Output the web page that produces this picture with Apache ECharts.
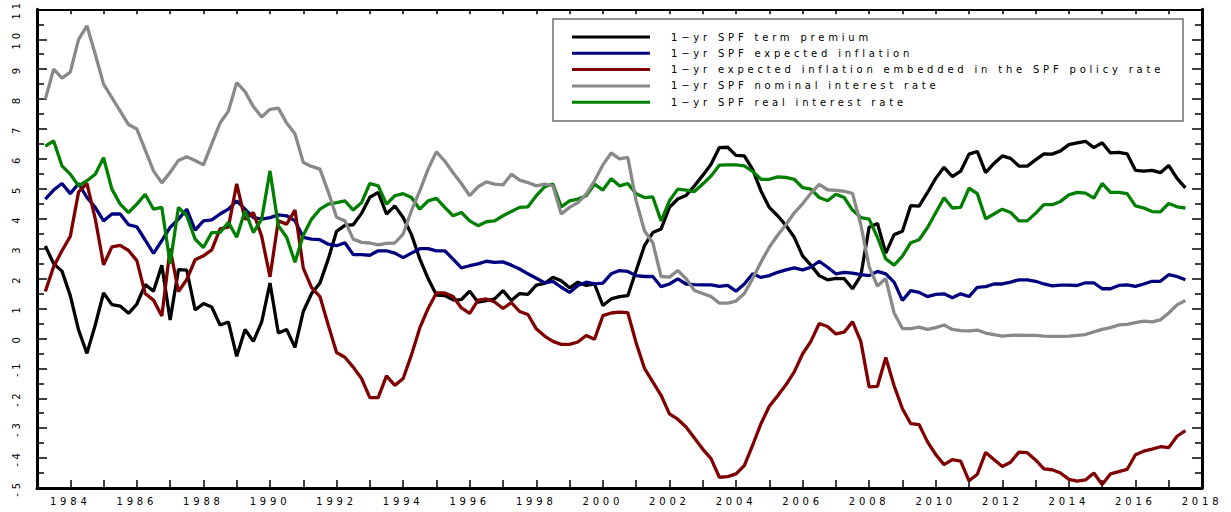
<!DOCTYPE html>
<html>
<head>
<meta charset="utf-8">
<script src="https://cdn.jsdelivr.net/npm/echarts@6/dist/echarts.min.js"></script>
<style>
  html, body { margin: 0; padding: 0; background: #fff; }
  #chart { width: 1231px; height: 512px; }
  /* wide spaced lettering like the original plot font */
  #chart svg text { letter-spacing: 3.8px; }
</style>
</head>
<body>
<div id="chart"></div>
<script>
// quarterly observations, first one at 1983.25
var firstQuarter = 1983.25;

var termPremium = [
  3.09, 2.5, 2.25, 1.43, 0.28, -0.5, 0.45, 1.52, 1.13, 1.08, 0.84, 1.15, 1.8, 1.58, 2.45, 0.62,
  2.3, 2.28, 0.95, 1.17, 1.05, 0.45, 0.55, -0.6, 0.3, -0.1, 0.55, 1.85, 0.18, 0.3, -0.3, 0.9,
  1.5, 1.85, 2.65, 3.58, 3.78, 3.8, 4.18, 4.72, 4.88, 4.16, 4.43, 4.04, 3.47, 2.66, 2.0, 1.45,
  1.43, 1.29, 1.3, 1.58, 1.21, 1.26, 1.32, 1.6, 1.27, 1.5, 1.47, 1.78, 1.84, 2.04, 1.93, 1.69,
  1.88, 1.77, 1.82, 1.1, 1.32, 1.4, 1.43, 2.27, 3.1, 3.54, 3.66, 4.38, 4.66, 4.78, 5.1, 5.45,
  5.82, 6.38, 6.39, 6.12, 6.1, 5.65, 4.93, 4.38, 4.1, 3.78, 3.38, 2.76, 2.45, 2.1, 1.96, 2.01,
  2.0, 1.66, 2.1, 3.72, 3.84, 2.85, 3.47, 3.58, 4.44, 4.42, 4.87, 5.35, 5.72, 5.41, 5.59, 6.16,
  6.25, 5.54, 5.85, 6.1, 6.02, 5.76, 5.76, 5.97, 6.17, 6.16, 6.27, 6.48, 6.54, 6.59, 6.38, 6.54,
  6.2, 6.22, 6.17, 5.62, 5.59, 5.62, 5.54, 5.78, 5.35, 5.03
];

var expInflation = [
  4.66, 4.96, 5.18, 4.84, 5.18, 4.71, 4.38, 3.93, 4.16, 4.16, 3.8, 3.73, 3.29, 2.84, 3.27, 3.71,
  3.99, 4.32, 3.62, 3.93, 3.96, 4.16, 4.32, 4.6, 4.32, 4.04, 3.99, 4.04, 4.13, 4.1, 3.93, 3.38,
  3.32, 3.3, 3.15, 3.1, 3.2, 2.8, 2.8, 2.78, 2.93, 2.93, 2.85, 2.7, 2.85, 3.0, 3.0, 2.93,
  2.93, 2.65, 2.36, 2.43, 2.49, 2.58, 2.54, 2.56, 2.45, 2.32, 2.16, 2.01, 1.86, 1.91, 1.71, 1.54,
  1.77, 1.88, 1.82, 1.85, 2.16, 2.27, 2.24, 2.1, 2.07, 2.07, 1.73, 1.82, 1.99, 1.82, 1.8, 1.79,
  1.79, 1.74, 1.77, 1.58, 1.82, 2.16, 2.04, 2.1, 2.21, 2.29, 2.36, 2.29, 2.38, 2.58, 2.38, 2.16,
  2.21, 2.18, 2.13, 2.1, 2.24, 2.16, 1.88, 1.27, 1.6, 1.54, 1.4, 1.47, 1.49, 1.36, 1.49, 1.4,
  1.71, 1.73, 1.82, 1.82, 1.88, 1.96, 1.96, 1.91, 1.82, 1.76, 1.78, 1.78, 1.77, 1.86, 1.86, 1.66,
  1.66, 1.77, 1.79, 1.74, 1.82, 1.91, 1.91, 2.13, 2.07, 1.96
];

var policyInflation = [
  1.57, 2.4, 2.93, 3.41, 4.9, 5.18, 4.0, 2.46, 3.06, 3.11, 2.94, 2.6, 1.5, 1.28, 0.75, 3.0,
  1.57, 1.97, 2.63, 2.76, 2.96, 3.66, 3.72, 5.17, 3.98, 4.21, 3.41, 2.06, 3.93, 3.82, 4.29, 2.35,
  1.7, 1.4, 0.45, -0.47, -0.63, -0.96, -1.34, -1.98, -1.98, -1.25, -1.57, -1.34, -0.55, 0.35, 1.0, 1.52,
  1.52, 1.4, 1.02, 0.84, 1.28, 1.32, 1.22, 1.0, 1.2, 0.9, 0.8, 0.32, 0.08, -0.1, -0.2, -0.2,
  -0.12, 0.1, -0.03, 0.76, 0.85, 0.88, 0.86, -0.15, -1.0, -1.45, -1.9, -2.52, -2.7, -2.96, -3.33, -3.7,
  -4.02, -4.64, -4.62, -4.53, -4.25, -3.57, -2.85, -2.27, -1.92, -1.55, -1.12, -0.52, -0.1, 0.5, 0.4, 0.15,
  0.21, 0.56, -0.1, -1.62, -1.6, -0.64, -1.58, -2.35, -2.85, -2.88, -3.45, -3.88, -4.22, -4.05, -4.1, -4.76,
  -4.54, -3.81, -4.05, -4.28, -4.14, -3.8, -3.82, -4.06, -4.36, -4.39, -4.5, -4.71, -4.77, -4.73, -4.5, -4.88,
  -4.53, -4.45, -4.38, -3.89, -3.77, -3.7, -3.62, -3.65, -3.27, -3.08
];

var nominalRate = [
  8.0, 9.0, 8.7, 8.9, 10.0, 10.45, 9.5, 8.5, 8.05, 7.6, 7.15, 7.0, 6.3, 5.6, 5.2, 5.55,
  5.95, 6.07, 5.95, 5.8, 6.5, 7.2, 7.6, 8.55, 8.25, 7.75, 7.4, 7.66, 7.7, 7.2, 6.84, 5.88,
  5.75, 5.66, 4.9, 4.05, 3.93, 3.32, 3.21, 3.19, 3.13, 3.18, 3.19, 3.49, 4.27, 4.93, 5.66, 6.24,
  5.93, 5.54, 5.18, 4.77, 5.07, 5.23, 5.16, 5.13, 5.49, 5.29, 5.21, 5.1, 5.16, 5.1, 4.16, 4.38,
  4.54, 4.82, 5.27, 5.8, 6.2, 6.0, 6.05, 4.6, 3.6, 3.2, 2.07, 2.05, 2.27, 2.0, 1.6, 1.5,
  1.4, 1.18, 1.18, 1.25, 1.5, 2.0, 2.55, 3.05, 3.45, 3.8, 4.2, 4.5, 4.85, 5.15, 4.97, 4.95,
  4.92, 4.85, 3.8, 2.4, 1.75, 2.0, 0.85, 0.33, 0.33, 0.38, 0.3, 0.36, 0.45, 0.3, 0.26, 0.25,
  0.28, 0.18, 0.13, 0.08, 0.1, 0.11, 0.1, 0.1, 0.08, 0.07, 0.07, 0.08, 0.1, 0.13, 0.22, 0.3,
  0.36, 0.45, 0.47, 0.53, 0.58, 0.55, 0.62, 0.85, 1.12, 1.27
];

var realRate = [
  6.43, 6.6, 5.77, 5.49, 5.1, 5.27, 5.49, 6.04, 4.99, 4.49, 4.21, 4.49, 4.82, 4.32, 4.38, 2.5,
  4.38, 4.1, 3.32, 3.04, 3.54, 3.54, 3.88, 3.38, 4.27, 3.54, 3.99, 5.6, 3.77, 3.38, 2.55, 3.45,
  3.99, 4.32, 4.49, 4.54, 4.6, 4.29, 4.54, 5.18, 5.1, 4.49, 4.77, 4.84, 4.71, 4.32, 4.6, 4.68,
  4.38, 4.1, 4.21, 3.93, 3.77, 3.9, 3.93, 4.1, 4.24, 4.38, 4.4, 4.77, 5.07, 5.16, 4.4, 4.6,
  4.66, 4.77, 5.16, 4.96, 5.34, 5.1, 5.18, 4.84, 4.71, 4.73, 3.93, 4.6, 4.99, 4.96, 4.91, 5.16,
  5.43, 5.79, 5.8, 5.8, 5.77, 5.58, 5.32, 5.32, 5.4, 5.38, 5.32, 5.04, 4.99, 4.71, 4.6, 4.82,
  4.71, 4.29, 4.04, 3.99, 3.38, 2.66, 2.45, 2.75, 3.2, 3.3, 3.7, 4.2, 4.7, 4.36, 4.38, 5.02,
  4.84, 4.0, 4.16, 4.32, 4.21, 3.93, 3.93, 4.18, 4.47, 4.47, 4.58, 4.8, 4.88, 4.86, 4.69, 5.18,
  4.88, 4.88, 4.84, 4.43, 4.36, 4.24, 4.23, 4.51, 4.4, 4.36
];

var seriesNames = [
  '1−yr SPF term premium',
  '1−yr SPF expected inflation',
  '1−yr expected inflation embedded in the SPF policy rate',
  '1−yr SPF nominal interest rate',
  '1−yr SPF real interest rate'
];
var seriesColors = ['#000000', '#00007f', '#7f0000', '#898989', '#007f00'];
var seriesData = [termPremium, expInflation, policyInflation, nominalRate, realRate];

function withDates(values) {
  return values.map(function (v, i) { return [firstQuarter + i * 0.25, v]; });
}

var fontFam = '"DejaVu Sans", sans-serif';
var chart = echarts.init(document.getElementById('chart'), null, { renderer: 'svg' });

var series = seriesNames.map(function (name, k) {
  return {
    name: name,
    type: 'line',
    data: withDates(seriesData[k]),
    symbol: 'none',
    animation: false,
    lineStyle: { color: seriesColors[k], width: 3.3 },
    itemStyle: { color: seriesColors[k] },
    z: 2
  };
});
// the green line sits on top in the original
series.push(series.splice(3, 1)[0]);

var xCommon = {
  type: 'value', min: 1983, max: 2018, interval: 1,
  splitLine: { show: false },
  axisLine: { onZero: false, lineStyle: { color: '#000', width: 3 } }
};
var yCommon = {
  type: 'value', min: -5, max: 11, interval: 1,
  splitLine: { show: false },
  axisLine: { onZero: false, lineStyle: { color: '#000', width: 3 } },
  axisTick: { inside: true, length: 10, lineStyle: { color: '#000', width: 1.5 } },
  minorTick: { show: true, splitNumber: 2, length: 7, lineStyle: { color: '#000', width: 1.5 } }
};

chart.setOption({
  backgroundColor: '#fff',
  animation: false,
  grid: { left: 37, right: 29, top: 8, bottom: 24 },
  xAxis: [
    Object.assign({}, xCommon, {
      position: 'bottom',
      axisTick: { inside: true, length: 8, lineStyle: { color: '#000', width: 1.5 } },
      axisLabel: {
        color: '#000', fontSize: 10, fontFamily: fontFam, margin: 8,
        formatter: function (v) { return v % 2 === 0 ? String(v) : ''; }
      }
    }),
    Object.assign({}, xCommon, {
      position: 'top',
      axisLine: { onZero: false, lineStyle: { color: '#000', width: 2 } },
      axisTick: { inside: true, length: 5, lineStyle: { color: '#000', width: 1.5 } },
      axisLabel: { show: false }
    })
  ],
  yAxis: [
    Object.assign({}, yCommon, {
      position: 'left',
      axisLabel: { color: '#000', fontSize: 10, fontFamily: fontFam, rotate: 90, margin: 16 }
    }),
    Object.assign({}, yCommon, {
      position: 'right',
      axisLabel: { show: false }
    })
  ],
  legend: {
    orient: 'vertical',
    left: 572, top: 31,
    padding: 0,
    z: 10,
    icon: 'rect',
    itemWidth: 78, itemHeight: 3, itemGap: 4.3,
    data: seriesNames,
    textStyle: {
      color: '#000', fontSize: 10, lineHeight: 12, fontFamily: fontFam,
      padding: [0, 0, 0, 16]
    }
  },
  graphic: [{
    type: 'rect',
    shape: { x: 553, y: 19, width: 630, height: 102 },
    style: { fill: '#fff', stroke: '#6f6f6f', lineWidth: 1.5 },
    z: 3
  }],
  series: series
});
</script>
</body>
</html>
